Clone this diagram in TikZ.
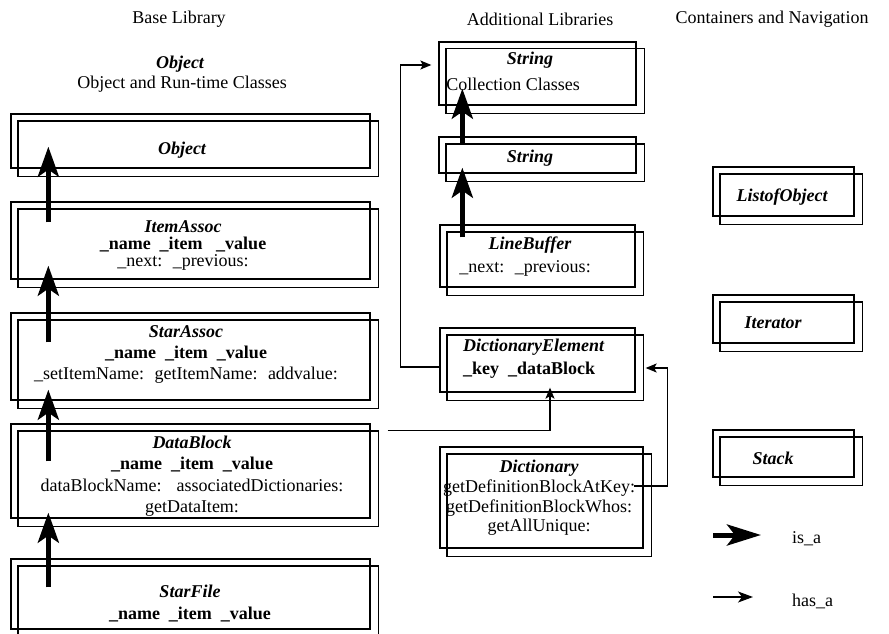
\documentclass[tikz,border=0pt]{standalone}
\usepackage{fontspec}
\setmainfont{Liberation Serif}
\usetikzlibrary{arrows.meta,calc}
\begin{document}
\begin{tikzpicture}[x=1pt,y=-1pt,
  box/.style={draw, line width=1.3pt, rectangle, inner sep=0pt},
  txt/.style={inner sep=0pt, align=center, font=\fontsize{18}{20}\selectfont},
  cname/.style={inner sep=0pt, align=center, font=\fontsize{18}{20}\selectfont\bfseries\itshape},
  isa/.style={line width=5pt, -{Stealth[length=30pt, width=21pt, inset=7pt]}},
  hasa/.style={line width=1.3pt, -{Stealth[length=11pt, width=9pt, inset=2.5pt]}},
]
\useasboundingbox (0,0) rectangle (889,634);
\clip (0,0) rectangle (889,634);

% headers
\node[txt] (h1) at (179,19.5) {Base Library};
\node[txt] (h2) at (540,19.5) {Additional Libraries};
\node[txt] (h3) at (772,19.5) {Containers and Navigation};
\node[cname] (t0) at (180,64) {Object};
\node[txt] (t0b) at (182,84) {Object and Run-time Classes};

% left column boxes
\node[box, minimum width=359pt, minimum height=54pt] (obj) at (190.5,141) {};
\node[box, minimum width=359pt, minimum height=77pt] (ia) at (190.5,240.5) {};
\node[box, minimum width=359pt, minimum height=87pt] (sa) at (190.5,356.5) {};
\node[box, minimum width=359pt, minimum height=94pt] (db) at (190.5,471) {};
\node[box, minimum width=359pt, minimum height=70pt] (sf) at (190.5,594) {};

% middle column boxes
\node[box, minimum width=197pt, minimum height=63pt] (coll) at (537.5,73.5) {};
\node[box, minimum width=197pt, minimum height=36pt] (str) at (537.5,155) {};
\node[box, minimum width=195pt, minimum height=62pt] (lb) at (537.5,256) {};
\node[box, minimum width=195pt, minimum height=64pt] (de) at (537.5,360) {};
\node[box, minimum width=203pt, minimum height=101pt] (dict) at (541.5,497.5) {};

% right column boxes
\node[box, minimum width=141pt, minimum height=49pt] (lo) at (783.5,191.5) {};
\node[box, minimum width=141pt, minimum height=48pt] (it) at (783.5,319) {};
\node[box, minimum width=141pt, minimum height=47pt] (st) at (783.5,453.5) {};

% offset copies
\foreach \n in {obj,ia,sa,db,sf,coll,str,lb,de,dict,lo,it,st}
  \draw[line width=1.3pt] ($(\n.north west)+(7.5,7.5)$) rectangle ($(\n.south east)+(7.5,7.5)$);

% texts in left boxes
\node[cname] (objt) at (182,150) {Object};
\node[txt, font=\fontsize{18}{17}\selectfont] (iat) at (183,245)
  {{\bfseries\itshape ItemAssoc}\\{\bfseries \_name \ \_item \ \ \_value}\\\_next: \ \_previous:};
\node[txt, font=\fontsize{18}{21}\selectfont] (sat) at (186,354)
  {{\bfseries\itshape StarAssoc}\\{\bfseries \_name \ \_item \ \_value}\\\_setItemName: \ getItemName: \ addvalue:};
\node[txt, font=\fontsize{18}{21.5}\selectfont] (dbt) at (192,476)
  {{\bfseries\itshape DataBlock}\\{\bfseries \_name \ \_item \ \_value}\\dataBlockName: \ \ associatedDictionaries:\\getDataItem:};
\node[txt, font=\fontsize{18}{22}\selectfont] (sft) at (190,604)
  {{\bfseries\itshape StarFile}\\{\bfseries \_name \ \_item \ \_value}};

% texts in middle boxes
\node[cname] (collt1) at (530,60) {String};
\node[txt] (collt2) at (513,84) {Collection Classes};
\node[cname] (strt) at (530,158) {String};
\node[cname] (lbt1) at (530,245) {LineBuffer};
\node[txt] (lbt2) at (525,268) {\_next: \ \_previous:};
\node[txt, anchor=west, align=left, font=\fontsize{18}{23}\selectfont] (det) at (463,359)
  {{\bfseries\itshape DictionaryElement}\\{\bfseries \_key \ \_dataBlock}};
\node[txt, font=\fontsize{18}{19.7}\selectfont] (dictt) at (539,498)
  {{\bfseries\itshape Dictionary}\\getDefinitionBlockAtKey:\\getDefinitionBlockWhos:\\getAllUnique:};

% texts in right boxes
\node[cname] (lot) at (782,197) {ListofObject};
\node[cname] (itt) at (773,323) {Iterator};
\node[cname] (stt) at (773,458) {Stack};

% is_a arrows
\draw[isa] ($(sf.north west)+(38,29)$) -- ($(db.south west)+(38,-6)$);
\draw[isa] ($(db.north west)+(38,38)$) -- ($(sa.south west)+(38,-11)$);
\draw[isa] ($(sa.north west)+(38,30)$) -- ($(ia.south west)+(38,-14)$);
\draw[isa] ($(ia.north west)+(38,21)$) -- ($(obj.south west)+(38,-22)$);
\draw[isa] ($(lb.north west)+(23,13)$) -- ($(str.south west)+(24,-6)$);
\draw[isa] ($(str.north west)+(24,7)$) -- ($(coll.south west)+(24,-17)$);

% has_a arrows
\draw[hasa] ($(de.west)+(0,7)$) -- ++(-39,0) |- ($(coll.west)+(-7,-8.5)$);
\draw[hasa] ($(db.north east)+(17,7)$) -| ($(de.south)+(12.5,-5)$);
\draw[hasa] ($(dict.east)+(-10,-11.5)$) -- ++(34,0) |- ($(de.east)+(10,8)$);

% legend
\coordinate (l1a) at (713,535);
\coordinate (l1b) at (761,535);
\draw[isa, -{Stealth[length=34pt, width=21pt, inset=8pt]}] (l1a) -- (l1b);
\node[txt, anchor=base west] (isat) at (792,543) {is\_a};
\coordinate (l2a) at (713,597);
\coordinate (l2b) at (753,597);
\draw[hasa, -{Stealth[length=15pt, width=11pt, inset=4pt]}] (l2a) -- (l2b);
\node[txt, anchor=base west] (hasat) at (792,606) {has\_a};
\end{tikzpicture}
\end{document}
